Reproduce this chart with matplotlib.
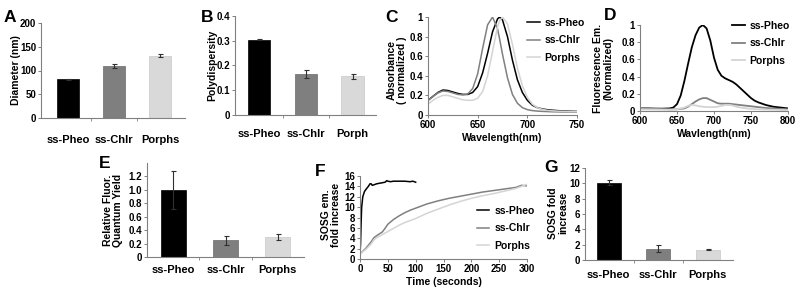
import matplotlib
matplotlib.use("Agg")
import matplotlib.pyplot as plt

plt.rcParams['font.family'] = ['Liberation Sans', 'DejaVu Sans']
plt.rcParams['font.weight'] = 'bold'
plt.rcParams['axes.labelweight'] = 'bold'

# categorias e cores
cats_A = ['ss-Pheo', 'ss-Chlr', 'Porphs']
cats_B = ['ss-Pheo', 'ss-Chlr', 'Porph']
cores = ['#000000', '#7f7f7f', '#d9d9d9']

# A: diametro
diam = [82, 109, 131]
diam_err = [1, 4, 3]

# B: polidispersidade
poly = [0.305, 0.165, 0.157]
poly_err = [0.003, 0.015, 0.01]

# C: absorbancia normalizada
wl_abs = [600, 605, 610, 615, 620, 625, 630, 635, 640, 645, 650, 655, 660, 665, 670, 672, 675,
          680, 685, 690, 695, 700, 705, 710, 715, 720, 725, 730, 735, 740, 745, 750]
abs_pheo = [0.15, 0.19, 0.23, 0.255, 0.25, 0.235, 0.22, 0.21, 0.21, 0.23, 0.29, 0.43, 0.63, 0.85, 0.98, 1.0, 0.97,
            0.8, 0.56, 0.36, 0.23, 0.15, 0.1, 0.075, 0.062, 0.054, 0.049, 0.045, 0.042, 0.04, 0.038, 0.037]
abs_chlr = [0.15, 0.19, 0.225, 0.245, 0.24, 0.225, 0.21, 0.205, 0.215, 0.27, 0.42, 0.68, 0.92, 1.0, 0.88, 0.78, 0.62,
            0.38, 0.21, 0.12, 0.075, 0.055, 0.045, 0.04, 0.037, 0.035, 0.033, 0.032, 0.031, 0.03, 0.03, 0.03]
abs_porph = [0.11, 0.15, 0.18, 0.2, 0.2, 0.185, 0.17, 0.155, 0.15, 0.15, 0.17, 0.24, 0.4, 0.65, 0.9, 0.96, 1.0,
             0.93, 0.72, 0.48, 0.3, 0.18, 0.11, 0.075, 0.058, 0.048, 0.043, 0.04, 0.038, 0.036, 0.035, 0.035]

# D: emissao de fluorescencia
wl_em = [600, 610, 620, 630, 640, 645, 650, 655, 660, 665, 670, 675, 680, 685, 690, 695, 700, 705,
         710, 715, 720, 725, 730, 735, 740, 745, 750, 755, 760, 770, 780, 790, 800]
em_pheo = [0.03, 0.03, 0.028, 0.027, 0.03, 0.04, 0.08, 0.18, 0.35, 0.55, 0.74, 0.88, 0.97, 1.0, 0.96, 0.82, 0.62, 0.48,
           0.41, 0.38, 0.36, 0.34, 0.31, 0.27, 0.23, 0.19, 0.15, 0.12, 0.1, 0.07, 0.05, 0.04, 0.03]
em_chlr = [0.03, 0.028, 0.025, 0.022, 0.02, 0.02, 0.02, 0.025, 0.03, 0.05, 0.08, 0.11, 0.135, 0.15, 0.15, 0.13, 0.11, 0.09,
           0.085, 0.085, 0.085, 0.08, 0.075, 0.07, 0.065, 0.06, 0.055, 0.05, 0.045, 0.035, 0.03, 0.025, 0.02]
em_porph = [0.02, 0.018, 0.017, 0.016, 0.015, 0.017, 0.02, 0.03, 0.04, 0.06, 0.07, 0.065, 0.055, 0.05, 0.045, 0.045, 0.045, 0.05,
            0.06, 0.07, 0.07, 0.065, 0.05, 0.042, 0.035, 0.03, 0.025, 0.022, 0.02, 0.017, 0.015, 0.012, 0.01]

# E: rendimento quantico relativo
qy = [1.0, 0.25, 0.3]
qy_err = [0.28, 0.07, 0.04]

# F: SOSG em funcao do tempo
t_pheo = [0, 1, 2, 3, 5, 8, 12, 15, 18, 20, 22, 25, 30, 35, 40, 45, 48, 50, 55, 60, 70, 80, 90, 95, 100]
sosg_pheo = [1, 3, 7, 10, 12, 13, 13.6, 14, 14.5, 14.5, 14.2, 14.3, 14.5, 14.6, 14.7, 14.8, 15.1, 15.0, 14.9, 15.0,
             15.0, 15.0, 14.9, 15.0, 14.8]
t_lenta = [0, 10, 20, 25, 30, 40, 45, 50, 60, 70, 80, 90, 100, 120, 140, 160, 180, 200, 220, 240, 260, 280, 290, 300]
sosg_chlr = [1, 2, 3.3, 4.1, 4.5, 5.2, 5.9, 6.7, 7.6, 8.3, 8.9, 9.4, 9.8, 10.6, 11.2, 11.7, 12.1, 12.5, 12.9, 13.2,
             13.5, 13.8, 14.2, 14.1]
sosg_porph = [1, 1.8, 2.9, 3.7, 4.1, 4.7, 5.0, 5.3, 5.9, 6.5, 7.0, 7.4, 7.8, 8.8, 9.6, 10.4, 11.1, 11.7, 12.2, 12.6,
              13.1, 13.6, 14.0, 14.4]

# G: SOSG aumento
sosg_fold = [10.1, 1.5, 1.35]
sosg_err = [0.35, 0.4, 0.1]

W, H = 800, 291
fig = plt.figure(figsize=(8, 2.91), dpi=100)
TICK = 7
LAB = 7.5


def eixo(x0, y0, x1, y1):
    # caixa em pixels (x0,y0 topo-esquerda ; x1,y1 base-direita)
    return fig.add_axes([x0 / W, 1 - y1 / H, (x1 - x0) / W, (y1 - y0) / H])


def estilo(ax):
    for s in ['top', 'right']:
        ax.spines[s].set_visible(False)
    for s in ['left', 'bottom']:
        ax.spines[s].set_color('#808080')
        ax.spines[s].set_linewidth(0.8)
    ax.tick_params(labelsize=TICK, length=2, width=0.7, color='#808080', pad=1.5)


def barras(ax, vals, errs, cats, lim, pad):
    x = range(len(vals))
    ax.bar(x, vals, width=0.48, color=cores, edgecolor=['#000000', '#6a6a6a', '#c8c8c8'], linewidth=0.5)
    ax.errorbar(x, vals, yerr=errs, fmt='none', ecolor='#303030', elinewidth=0.8, capsize=1.8, capthick=0.8)
    ax.set_xlim(*lim)
    ax.set_xticks(list(x))
    ax.set_xticklabels(cats, fontsize=8)
    ax.set_xticks([0.5, 1.5], minor=True)
    ax.tick_params(axis='x', which='major', length=0, pad=pad)
    ax.tick_params(axis='x', which='minor', length=2, color='#808080')


def letra(px, py, s):
    fig.text(px / W, 1 - py / H, s, fontsize=12.5, fontweight='bold', ha='center', va='center')


def ylab(px, py, s):
    fig.text(px / W, 1 - py / H, s, fontsize=LAB, fontweight='bold', rotation=90, ha='center', va='center',
             linespacing=1.0)


def legenda(ax, anchor):
    ax.legend(loc='upper left', frameon=False, fontsize=LAB, handlelength=1.2, handletextpad=0.5,
              labelspacing=0.7, borderaxespad=0, borderpad=0, bbox_to_anchor=anchor,
              bbox_transform=fig.transFigure)


# A
ax = eixo(41, 23, 185, 118)
estilo(ax)
barras(ax, diam, diam_err, cats_A, (-0.59, 2.54), 12)
ax.set_ylim(0, 200)
ax.set_yticks([0, 50, 100, 150, 200])
letra(10, 17, 'A')
ylab(16, 70, 'Diameter (nm)')

# B
ax = eixo(235, 16, 376, 115)
estilo(ax)
barras(ax, poly, poly_err, cats_B, (-0.52, 2.5), 10)
ax.set_ylim(0, 0.4)
ax.set_yticks([0, 0.1, 0.2, 0.3, 0.4])
ax.set_yticklabels(['0', '0.1', '0.2', '0.3', '0.4'])
letra(207, 17, 'B')
ylab(212, 65, 'Polydispersity')

# C
ax = eixo(428, 17, 577, 115)
estilo(ax)
ax.plot(wl_abs, abs_pheo, color='#000000', lw=1.1, label='ss-Pheo')
ax.plot(wl_abs, abs_chlr, color='#808080', lw=1.1, label='ss-Chlr')
ax.plot(wl_abs, abs_porph, color='#d4d4d4', lw=1.1, label='Porphs')
ax.set_xlim(600, 750)
ax.set_ylim(0, 1)
ax.set_xticks([600, 650, 700, 750])
ax.set_yticks([0, 0.2, 0.4, 0.6, 0.8, 1])
ax.set_yticklabels(['0', '0.2', '0.4', '0.6', '0.8', '1'])
ax.set_xlabel('Wavelength(nm)', fontsize=LAB, labelpad=2)
legenda(ax, (527 / W, 1 - 18 / H))
letra(391, 17, 'C')
ylab(397, 70, 'Absorbance\n( normalized )')

# D
ax = eixo(640, 25, 788, 111)
estilo(ax)
ax.plot(wl_em, em_pheo, color='#000000', lw=1.3, label='ss-Pheo')
ax.plot(wl_em, em_chlr, color='#808080', lw=1.3, label='ss-Chlr')
ax.plot(wl_em, em_porph, color='#d4d4d4', lw=1.3, label='Porphs')
ax.set_xlim(600, 800)
ax.set_ylim(0, 1)
ax.set_xticks([600, 650, 700, 750, 800])
ax.set_yticks([0, 0.2, 0.4, 0.6, 0.8, 1])
ax.set_yticklabels(['0', '0.2', '0.4', '0.6', '0.8', '1'])
ax.set_xlabel('Wavlength(nm)', fontsize=LAB, labelpad=2)
legenda(ax, (732 / W, 1 - 21 / H))
letra(610, 15, 'D')
ylab(603, 68, 'Fluorescence Em.\n(Normalized)')

# E
ax = eixo(147, 163, 304, 257)
estilo(ax)
barras(ax, qy, qy_err, cats_A, (-0.5, 2.5), 6)
ax.set_ylim(0, 1.4)
ax.set_yticks([0, 0.2, 0.4, 0.6, 0.8, 1.0, 1.2])
ax.set_yticklabels(['0', '0.2', '0.4', '0.6', '0.8', '1.0', '1.2'])
letra(105, 163, 'E')
ylab(113, 210, 'Relative Fluor.\nQuantum Yield')

# F
ax = eixo(360, 176, 527, 259)
estilo(ax)
ax.plot(t_pheo, sosg_pheo, color='#000000', lw=1.1, label='ss-Pheo')
ax.plot(t_lenta, sosg_chlr, color='#808080', lw=1.1, label='ss-Chlr')
ax.plot(t_lenta, sosg_porph, color='#d4d4d4', lw=1.1, label='Porphs')
ax.set_xlim(0, 300)
ax.set_ylim(0, 16)
ax.set_xticks([0, 50, 100, 150, 200, 250, 300])
ax.set_yticks(range(0, 17, 2))
ax.set_xlabel('Time (seconds)', fontsize=LAB, labelpad=2)
legenda(ax, (477 / W, 1 - 206 / H))
letra(320, 172, 'F')
ylab(331, 215, 'SOSG em.\nfold increase')

# G
ax = eixo(585, 168, 733, 260)
estilo(ax)
barras(ax, sosg_fold, sosg_err, cats_A, (-0.48, 2.51), 7)
ax.set_ylim(0, 12)
ax.set_yticks(range(0, 13, 2))
letra(551, 168, 'G')
ylab(558, 213, 'SOSG fold\nincrease')

fig.savefig('out.png', dpi=100, facecolor='white')
